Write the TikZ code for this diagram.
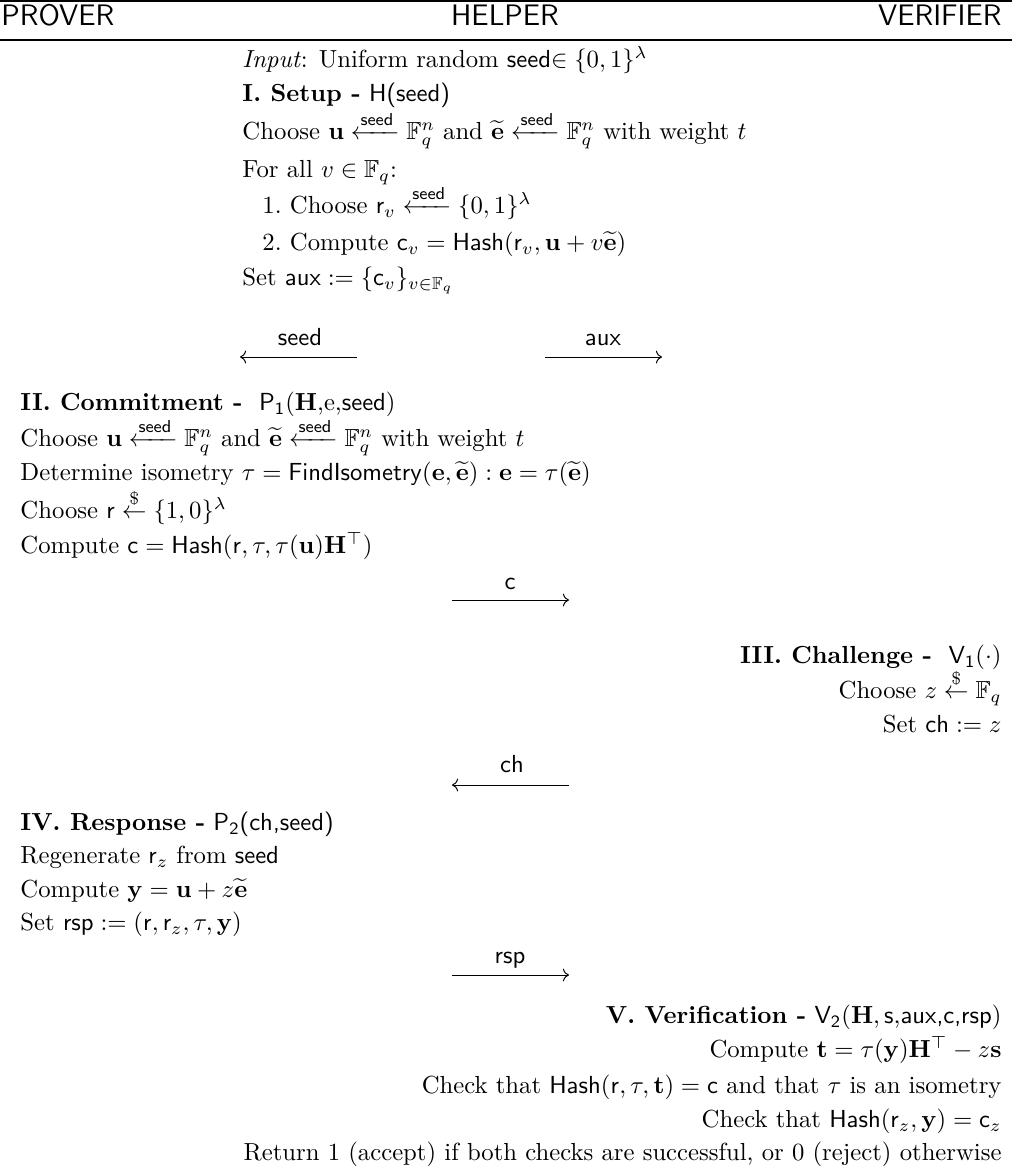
\documentclass[tikz,border=0pt]{standalone}
\usepackage{amsmath,amssymb}
\usetikzlibrary{arrows.meta}
\tikzset{
  txt/.style={inner sep=0pt},
  lft/.style={txt, anchor=mid west},
  rgt/.style={txt, anchor=mid east},
  hdr/.style={inner sep=0pt, font=\large\sffamily},
  msg/.style={-{Computer Modern Rightarrow}, line width=0.4pt},
  msglabel/.style={inner sep=0pt, font=\sffamily, anchor=mid},
  rulestyle/.style={line width=0.7pt}
}
\newcommand{\tE}{\widetilde{\mathbf{e}}}
\newcommand{\seedarr}{\xleftarrow{\mathsf{seed}}}
\begin{document}
\begin{tikzpicture}[x=0.405pt, y=-0.405pt]
\useasboundingbox (0,0) rectangle (1012,1176);
% header
\draw[rulestyle] (0,1) -- (1012,1);
\draw[rulestyle] (0,40) -- (1012,40);
\node[hdr, anchor=mid west] (hP) at (1,20) {PROVER};
\node[hdr, anchor=mid] (hH) at (505,20) {HELPER};
\node[hdr, anchor=mid east] (hV) at (1002,20) {VERIFIER};
% helper
\node[lft] (h1) at (242,62) {\emph{Input}: Uniform random \textsf{seed}$\in \{0,1\}^{\lambda}$};
\node[lft] (h2) at (242,96) {\textbf{I. Setup -} \textsf{H(seed)}};
\node[lft] (h3) at (242,134) {Choose $\mathbf{u}\seedarr\mathbb{F}_q^n$ and $\tE\seedarr\mathbb{F}_q^n$ with weight $t$};
\node[lft] (h4) at (242,172) {For all $v\in\mathbb{F}_q$:};
\node[lft] (h5) at (262,208) {1.\ Choose $\mathsf{r}_v\seedarr\{0,1\}^{\lambda}$};
\node[lft] (h6) at (262,245) {2.\ Compute $\mathsf{c}_v=\mathsf{Hash}(\mathsf{r}_v,\mathbf{u}+v\tE)$};
\node[lft] (h7) at (242,280) {Set $\mathsf{aux}:=\{\mathsf{c}_v\}_{v\in\mathbb{F}_q}$};
% seed / aux messages
\coordinate (s1) at (357,357);
\coordinate (s2) at (240,357);
\draw[msg] (s1) -- (s2);
\node[msglabel] (ls) at (300,340) {seed};
\coordinate (a1) at (545,357);
\coordinate (a2) at (662,357);
\draw[msg] (a1) -- (a2);
\node[msglabel] (la) at (603,340) {aux};
% prover commitment
\node[lft] (p1) at (20,405) {\textbf{II. Commitment -}\ \ $\mathsf{P}_{\mathsf{1}}(\mathbf{H}$,e,\textsf{seed}$)$};
\node[lft] (p2) at (20,441) {Choose $\mathbf{u}\seedarr\mathbb{F}_q^n$ and $\tE\seedarr\mathbb{F}_q^n$ with weight $t$};
\node[lft] (p3) at (20,475) {Determine isometry $\tau=\mathsf{FindIsometry}(\mathbf{e},\tE):\mathbf{e}=\tau(\tE)$};
\node[lft] (p4) at (20,513) {Choose $\mathsf{r}\stackrel{\$}{\leftarrow}\{1,0\}^{\lambda}$};
\node[lft] (p5) at (20,548) {Compute $\mathsf{c}=\mathsf{Hash}(\mathsf{r},\tau,\tau(\mathbf{u})\mathbf{H}^{\top})$};
\coordinate (c1) at (452,600);
\coordinate (c2) at (569,600);
\draw[msg] (c1) -- (c2);
\node[msglabel] (lc) at (510,584) {c};
% verifier challenge
\node[rgt] (v1) at (1002,658) {\textbf{III. Challenge -}\ \ $\mathsf{V}_{\mathsf{1}}(\cdot)$};
\node[rgt] (v2) at (1002,693) {Choose $z\stackrel{\$}{\leftarrow}\mathbb{F}_q$};
\node[rgt] (v3) at (1002,727) {Set $\mathsf{ch}:=z$};
\coordinate (ch1) at (569,785);
\coordinate (ch2) at (452,785);
\draw[msg] (ch1) -- (ch2);
\node[msglabel] (lch) at (512,767) {ch};
% prover response
\node[lft] (p6) at (20,825) {\textbf{IV. Response -} \textsf{P}$_{\mathsf{2}}$\textsf{(ch,seed)}};
\node[lft] (p7) at (20,858) {Regenerate $\mathsf{r}_z$ from \textsf{seed}};
\node[lft] (p8) at (20,892) {Compute $\mathbf{y}=\mathbf{u}+z\tE$};
\node[lft] (p9) at (20,925) {Set $\mathsf{rsp}:=(\mathsf{r},\mathsf{r}_z,\tau,\mathbf{y})$};
\coordinate (r1) at (452,975);
\coordinate (r2) at (569,975);
\draw[msg] (r1) -- (r2);
\node[msglabel] (lr) at (510,958) {rsp};
% verification
\node[rgt] (v4) at (1002,1018) {\textbf{V. Verification -} $\mathsf{V}_{\mathsf{2}}(\mathbf{H},\mathsf{s}$,\textsf{aux,c,rsp}$)$};
\node[rgt] (v5) at (1002,1052) {Compute $\mathbf{t}=\tau(\mathbf{y})\mathbf{H}^{\top}-z\mathbf{s}$};
\node[rgt] (v6) at (1002,1088) {Check that $\mathsf{Hash}(\mathsf{r},\tau,\mathbf{t})=\mathsf{c}$ and that $\tau$ is an isometry};
\node[rgt] (v7) at (1002,1122) {Check that $\mathsf{Hash}(\mathsf{r}_z,\mathbf{y})=\mathsf{c}_z$};
\node[rgt] (v8) at (1002,1155) {Return 1 (accept) if both checks are successful, or 0 (reject) otherwise};
\end{tikzpicture}
\end{document}
